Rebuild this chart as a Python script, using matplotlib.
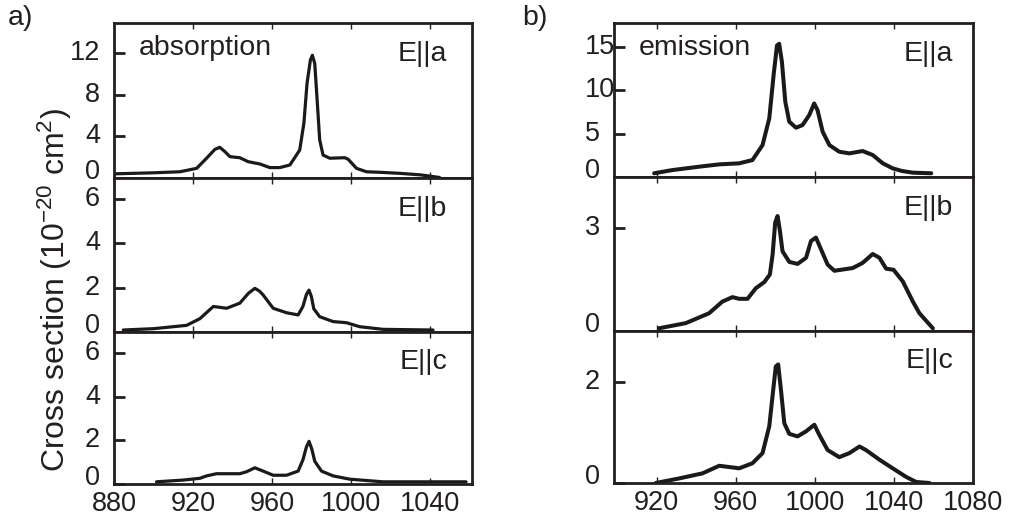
import matplotlib
matplotlib.use("Agg")
import matplotlib.pyplot as plt
import matplotlib.transforms as mtransforms

plt.rcParams['font.family'] = ['Liberation Sans', 'DejaVu Sans']
plt.rcParams['mathtext.fontset'] = 'custom'
plt.rcParams['mathtext.rm'] = 'Liberation Sans'
plt.rcParams['mathtext.sf'] = 'Liberation Sans'
plt.rcParams['mathtext.it'] = 'Liberation Sans'

# ---- absorption data (wavelength nm, cross section 1e-20 cm^2) ----
abs_a_x = [880, 900, 913.3, 921.8, 926.8, 931, 933.5, 936.1, 938.6, 943.6, 947.8, 953.7, 958.8,
           963.8, 968.9, 970.6, 973.9, 976, 977.6, 979.3, 980.3, 981.5, 982.7, 984, 985.7, 989.1,
           996.7, 998.4, 1002.6, 1007.6, 1014.3, 1024.4, 1035, 1044.6]
abs_a_y = [0.4, 0.5, 0.6, 0.93, 1.9, 2.75, 2.95, 2.53, 2.05, 1.95, 1.57, 1.35, 1.0,
           1.0, 1.25, 1.73, 2.69, 5.26, 9.1, 11.35, 11.8, 11.0, 7.5, 3.65, 2.2, 1.9,
           1.95, 1.8, 0.93, 0.6, 0.55, 0.45, 0.3, 0.05]

abs_b_x = [884.7, 900, 916.7, 923.4, 930.2, 933, 936.9, 943.6, 948, 951.2, 953.5, 955.4, 960.5,
           967.2, 973.1, 975.5, 977.3, 978.6, 979.8, 981, 984, 990.8, 997.5, 1004.2, 1016, 1041.3]
abs_b_y = [0.09, 0.15, 0.3, 0.6, 1.15, 1.12, 1.07, 1.3, 1.75, 1.97, 1.85, 1.67, 1.07,
           0.87, 0.77, 1.15, 1.7, 1.89, 1.6, 1.05, 0.69, 0.47, 0.42, 0.24, 0.12, 0.09]

abs_c_x = [901.5, 915, 923.4, 926.8, 931.8, 943.6, 947, 951.2, 955.4, 960.5, 967.2, 973.1,
           975.5, 977.3, 978.6, 980, 981.5, 984.9, 990.8, 999.2, 1016, 1058]
abs_c_y = [0.1, 0.18, 0.26, 0.37, 0.47, 0.47, 0.56, 0.74, 0.59, 0.4, 0.4, 0.59,
           1.1, 1.7, 1.95, 1.6, 1.04, 0.59, 0.37, 0.22, 0.1, 0.1]

# ---- emission data ----
em_a_x = [918.8, 928, 941.5, 951.7, 961.8, 968.5, 973.6, 977, 979.2, 980.9, 982, 983.4, 985.1,
          987.1, 990.5, 993.8, 997.2, 999.7, 1001.4, 1004, 1007.4, 1012.4, 1017.5, 1024.2,
          1029.3, 1034.4, 1039.4, 1044, 1049.6, 1058.9]
em_a_y = [0.43, 0.8, 1.19, 1.46, 1.58, 1.96, 3.69, 6.77, 11.8, 15.2, 15.4, 13.3, 8.7,
          6.4, 5.7, 6.0, 7.15, 8.5, 7.73, 5.23, 3.69, 2.92, 2.73, 3.0,
          2.54, 1.58, 1.0, 0.7, 0.5, 0.43]

em_b_x = [921.3, 934.8, 946.6, 953.3, 958.4, 961.8, 966, 970.2, 974.5, 977.3, 978.7, 980, 981.2,
          982.4, 983.7, 987.1, 991.3, 995.6, 998.1, 1000.6, 1003.2, 1006.5, 1009.9, 1019.2,
          1024.2, 1029.3, 1032.7, 1036.1, 1039.8, 1044.5, 1049.6, 1052.9, 1059.7]
em_b_y = [0.08, 0.23, 0.52, 0.86, 0.99, 0.94, 0.94, 1.25, 1.43, 1.65, 2.24, 3.17, 3.36,
          2.92, 2.33, 2.02, 1.96, 2.14, 2.63, 2.73, 2.38, 1.94, 1.76, 1.84,
          1.99, 2.25, 2.14, 1.82, 1.79, 1.45, 0.86, 0.52, 0.08]

em_c_x = [919.6, 931.4, 943.2, 951.7, 961.8, 968.5, 973.6, 977, 979, 980.3, 981.5, 982.9, 984.6,
          987.1, 991.3, 995.6, 999.8, 1002.3, 1006.5, 1012.4, 1017.5, 1022.6, 1025.9, 1032.7,
          1039.4, 1046.2, 1051.3, 1058]
em_c_y = [0.0, 0.09, 0.19, 0.34, 0.29, 0.39, 0.59, 1.12, 1.84, 2.3, 2.34, 1.84, 1.18,
          0.97, 0.92, 1.02, 1.15, 0.95, 0.65, 0.51, 0.59, 0.72, 0.65, 0.46,
          0.29, 0.12, 0.02, 0.0]

left_labels = ["E||a", "E||b", "E||c"]
right_labels = ["E||a", "E||b", "E||c"]
abs_xticks = [880, 920, 960, 1000, 1040]
em_xticks = [920, 960, 1000, 1040, 1080]
abs_yticks = [[0, 4, 8, 12], [0, 2, 4, 6], [0, 2, 4, 6]]
em_yticks = [[0, 5, 10, 15], [0, 3], [0, 2]]

W, H = 1011, 522
fig = plt.figure(figsize=(W / 100, H / 100), dpi=100)

def ax_px(x0, x1, y0, y1):
    return fig.add_axes([x0 / W, 1 - y1 / H, (x1 - x0) / W, (y1 - y0) / H])

left_rows = [(23, 178), (178, 332), (332, 484)]
right_rows = [(23, 177), (177, 331), (331, 483)]

abs_data = [(abs_a_x, abs_a_y), (abs_b_x, abs_b_y), (abs_c_x, abs_c_y)]
em_data = [(em_a_x, em_a_y), (em_b_x, em_b_y), (em_c_x, em_c_y)]
abs_ylims = [(0, 14.9), (0, 6.95), (0.05, 6.95)]
em_ylims = [(0, 17.8), (0, 4.5), (0, 3.0)]

FS_TICK = 19.5
FS_TEXT = 20.5
INK = '#231f20'
zero_shift = mtransforms.ScaledTranslation(0, 6 / 100, fig.dpi_scale_trans)

def style(ax, xlim, ylim, xticks, yticks, show_x, label_x_px, label_ha):
    ax.set_xlim(*xlim)
    ax.set_ylim(*ylim)
    ax.set_xticks(xticks)
    ax.set_yticks(yticks)
    for s in ax.spines.values():
        s.set_linewidth(2.0)
        s.set_color(INK)
    ax.tick_params(axis='y', direction='in', length=8, width=2, colors=INK,
                   left=True, right=False, labelleft=False)
    ax.tick_params(axis='x', direction='in', length=4, width=1, labelsize=FS_TICK,
                   top=True, bottom=True, colors=INK, pad=5)
    if not show_x:
        ax.tick_params(axis='x', labelbottom=False)
    # y tick labels placed as in the reference
    tr = mtransforms.blended_transform_factory(fig.transFigure, ax.transData)
    for v in yticks:
        t = tr + zero_shift if v == 0 else tr
        ax.text(label_x_px / W, v, str(v), transform=t, ha=label_ha, va='center',
                fontsize=FS_TICK, color=INK, clip_on=False)

for i, (r0, r1) in enumerate(left_rows):
    ax = ax_px(114, 472, r0, r1)
    x, y = abs_data[i]
    ax.plot(x, y, color='#1a1a1a', lw=2.3, solid_joinstyle='round', solid_capstyle='round')
    style(ax, (880, 1061), abs_ylims[i], abs_xticks, abs_yticks[i], i == 2, 100, 'right')
    ax.text(0.93, 0.80, left_labels[i], transform=ax.transAxes, ha='right', va='center',
            fontsize=FS_TEXT, color=INK)
    if i == 0:
        ax.text(0.068, 0.84, "absorption", transform=ax.transAxes, ha='left', va='center',
                fontsize=FS_TEXT, color=INK)

for i, (r0, r1) in enumerate(right_rows):
    ax = ax_px(614, 973, r0, r1)
    x, y = em_data[i]
    ax.plot(x, y, color='#1a1a1a', lw=2.9, solid_joinstyle='round', solid_capstyle='round')
    style(ax, (898.5, 1080), em_ylims[i], em_xticks, em_yticks[i], i == 2, 585, 'left')
    ax.text(0.945, 0.80, right_labels[i], transform=ax.transAxes, ha='right', va='center',
            fontsize=FS_TEXT, color=INK)
    if i == 0:
        ax.text(0.068, 0.84, "emission", transform=ax.transAxes, ha='left', va='center',
                fontsize=FS_TEXT, color=INK)

fig.text(55 / W, 1 - 290 / H, r"Cross section (10$^{\mathrm{-20}}$ cm$^{\mathrm{2}}$)", rotation=90,
         ha='center', va='center', fontsize=23, color=INK)
fig.text(8 / W, 1 - 18 / H, "a)", ha='left', va='center', fontsize=FS_TEXT, color=INK)
fig.text(522 / W, 1 - 18 / H, "b)", ha='left', va='center', fontsize=FS_TEXT, color=INK)

fig.savefig("out.png", dpi=100)
